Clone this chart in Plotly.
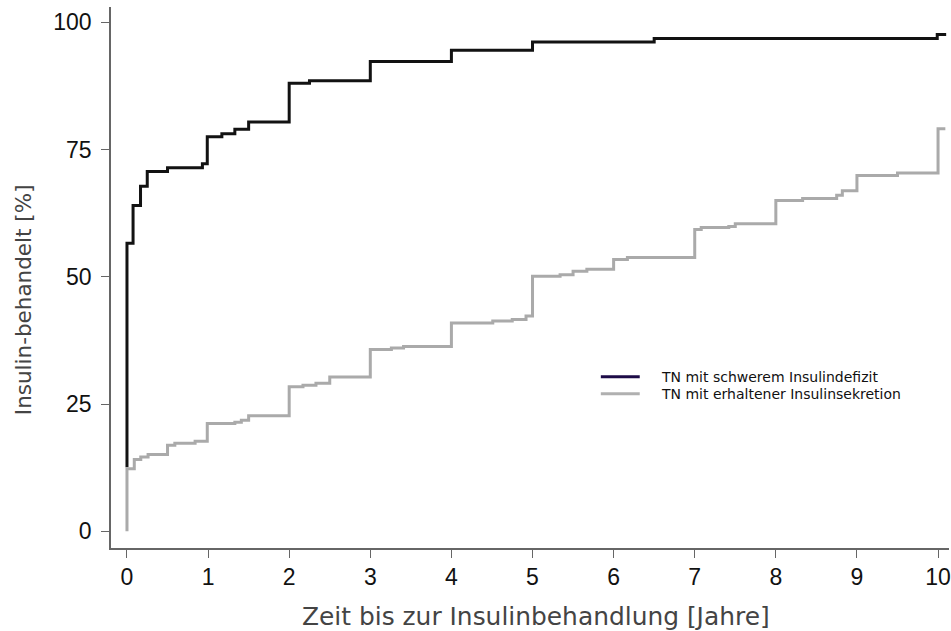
import plotly.graph_objects as go

# Kaplan-Meier style cumulative curves: share insulin-treated over time
years_deficit = [0, 0, 0.075, 0.167, 0.25, 0.5, 0.93, 0.99, 1.17, 1.33, 1.5,
                 2.0, 2.25, 3.0, 4.0, 5.0, 6.5, 9.99, 10.1]
pct_deficit = [12.6, 56.6, 64.0, 67.8, 70.7, 71.4, 72.2, 77.5, 78.1, 79.0, 80.4,
               88.0, 88.5, 92.3, 94.5, 96.1, 96.8, 97.6, 97.6]

years_secretion = [0, 0, 0.09, 0.17, 0.26, 0.5, 0.59, 0.84, 0.99, 1.33, 1.41, 1.5,
                   2.0, 2.17, 2.33, 2.5, 3.0, 3.26, 3.41, 4.0, 4.51, 4.75, 4.92,
                   5.0, 5.34, 5.5, 5.67, 6.0, 6.17, 7.0, 7.08, 7.42, 7.5, 8.0,
                   8.33, 8.75, 8.82, 9.0, 9.5, 10.0, 10.09]
pct_secretion = [0, 12.3, 14.1, 14.6, 15.1, 16.9, 17.3, 17.7, 21.2, 21.4, 21.8, 22.7,
                 28.4, 28.7, 29.1, 30.3, 35.7, 36.0, 36.3, 40.9, 41.3, 41.6, 42.3,
                 50.1, 50.4, 51.1, 51.5, 53.4, 53.8, 59.3, 59.7, 59.9, 60.4, 65.0,
                 65.4, 66.0, 66.9, 69.9, 70.4, 79.1, 79.1]

series_names = ["TN mit schwerem Insulindefizit", "TN mit erhaltener Insulinsekretion"]
legend_colors = ["#1d0b47", "#b0b0b0"]
x_ticks = list(range(0, 11))
y_ticks = [0, 25, 50, 75, 100]

# plot area in pixels: x 111..951, y 7..548
L, R, T, B = 111, 951, 7, 548


def px_x(px):
    return (px - L) / (R - L)


def px_y(py):
    return (B - py) / (B - T)


fig = go.Figure()

fig.add_trace(go.Scatter(x=years_deficit, y=pct_deficit, mode="lines",
                         line=dict(color="#121212", width=3, shape="hv"),
                         name=series_names[0], showlegend=False, hoverinfo="skip"))
fig.add_trace(go.Scatter(x=years_secretion, y=pct_secretion, mode="lines",
                         line=dict(color="#aaaaaa", width=3, shape="hv"),
                         name=series_names[1], showlegend=False, hoverinfo="skip"))

axis_common = dict(
    showline=True, linecolor="#666666", linewidth=1.5,
    ticks="outside", ticklen=8, tickwidth=1.2, tickcolor="#666666",
    showgrid=False, zeroline=False, ticklabeloverflow="allow",
    tickfont=dict(family="Liberation Sans, Arial, sans-serif", size=23, color="#111111"),
)

shapes = []
annotations = []

# key for the two groups
for i, (name, col) in enumerate(zip(series_names, legend_colors)):
    yy = 376.7 + 17 * i
    shapes.append(dict(type="line", xref="paper", yref="paper",
                       x0=px_x(602), x1=px_x(641), y0=px_y(yy), y1=px_y(yy),
                       line=dict(color=col, width=3)))
    annotations.append(dict(text=name, xref="paper", yref="paper",
                            x=px_x(660), y=px_y(yy), xanchor="left", yanchor="middle",
                            showarrow=False,
                            font=dict(family="DejaVu Sans", size=14, color="#111111")))

# axis titles
annotations.append(dict(text="Zeit bis zur Insulinbehandlung [Jahre]", xref="paper", yref="paper",
                        x=px_x(537), y=px_y(616), xanchor="center", yanchor="middle",
                        showarrow=False,
                        font=dict(family="DejaVu Sans", size=24.9, color="#444444")))
annotations.append(dict(text="Insulin-behandelt [%]", xref="paper", yref="paper",
                        x=px_x(23), y=px_y(300), xanchor="center", yanchor="middle",
                        textangle=-90, showarrow=False,
                        font=dict(family="DejaVu Sans", size=21.5, color="#444444")))

fig.update_layout(
    width=951, height=631,
    margin=dict(l=L, r=951 - R, t=T, b=631 - B),
    paper_bgcolor="white", plot_bgcolor="white",
    showlegend=False,
    xaxis=dict(range=[-0.197, 10.135], tickvals=x_ticks, **axis_common),
    yaxis=dict(range=[-3.28, 103.0], tickvals=y_ticks, ticklabelstandoff=5, **axis_common),
    shapes=shapes,
    annotations=annotations,
)

fig.write_html("out.html")
